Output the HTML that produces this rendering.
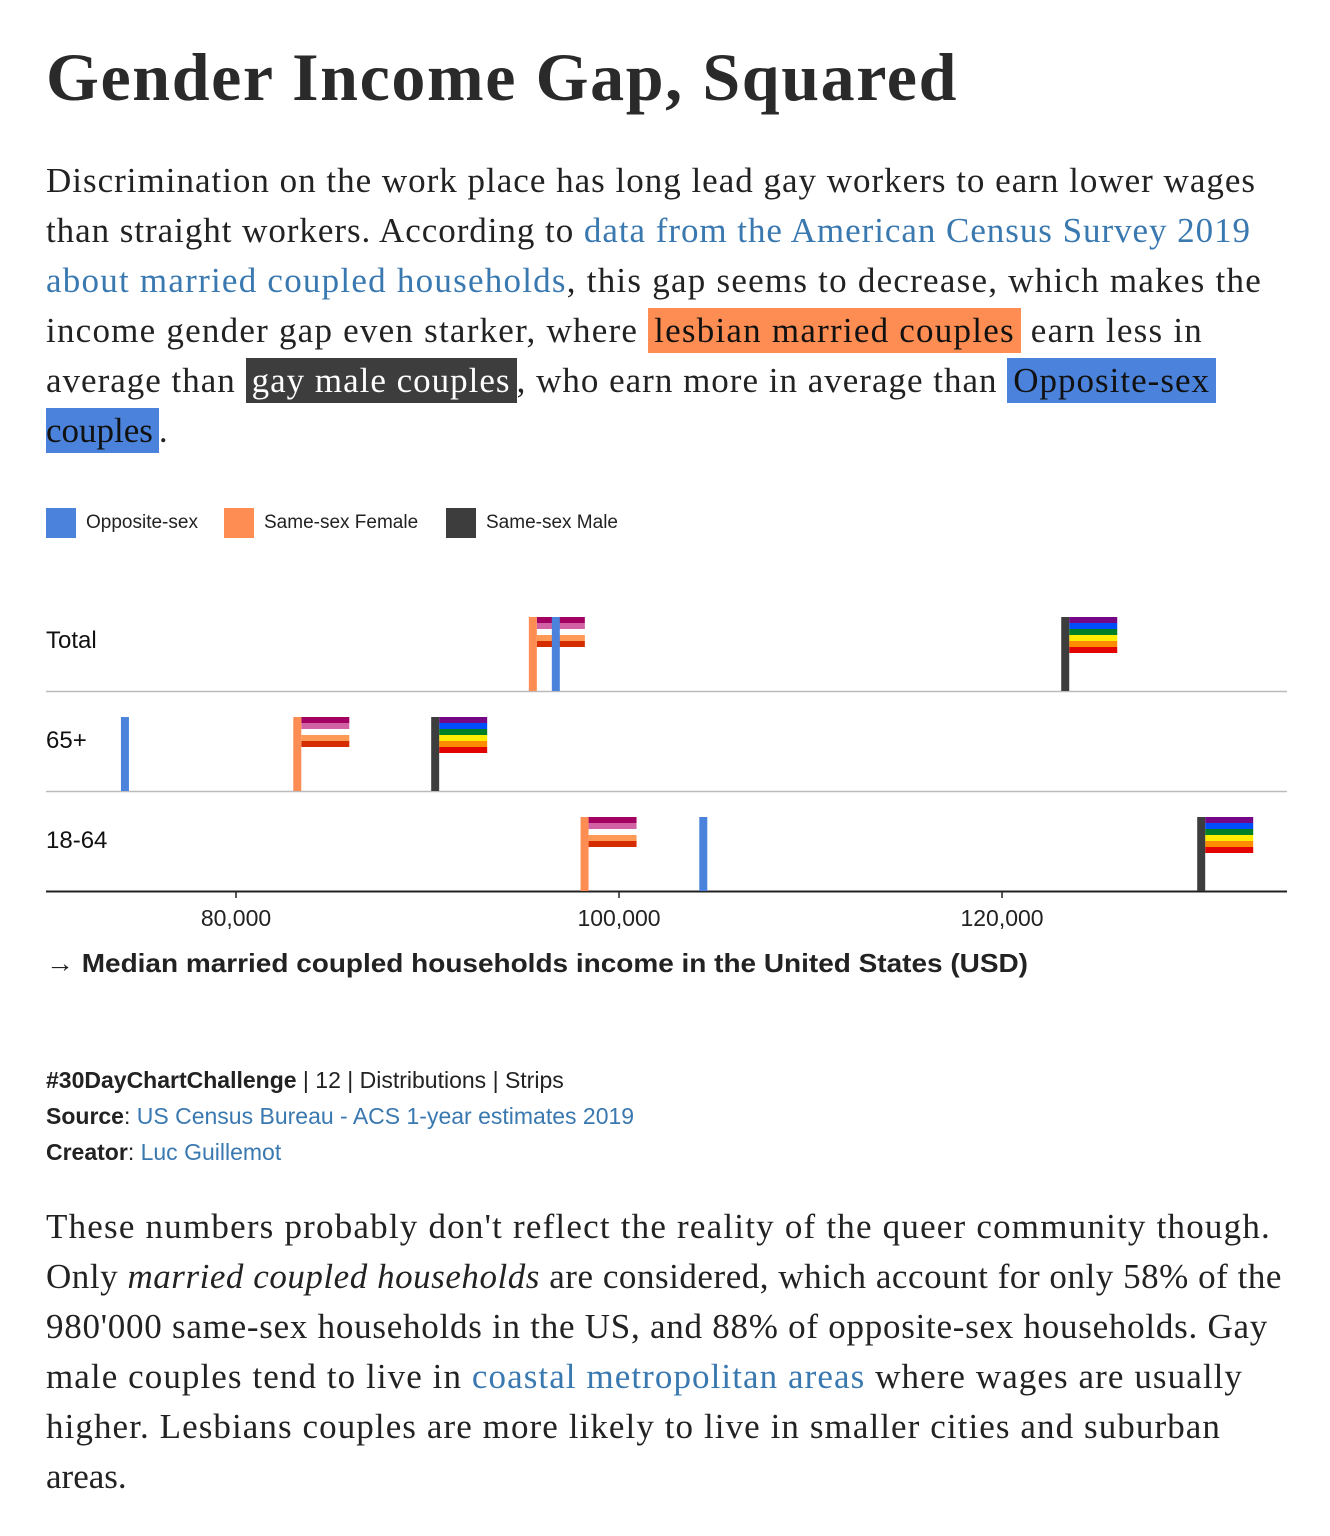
<!DOCTYPE html>
<html><head><meta charset="utf-8">
<style>
body{margin:0;width:1330px;height:1536px;background:#fff;color:#222;overflow:hidden}
.serif{font-family:"Liberation Serif",serif}
h1{position:absolute;left:46px;top:38px;margin:0;font:bold 68px "Liberation Serif",serif;color:#2a2a2a;white-space:nowrap}
.para{position:absolute;left:46px;font-size:35px;line-height:50px;color:#222}
.ln{white-space:nowrap;height:50px}
a{color:#3a78b0;text-decoration:none}
.hl{padding:3px 6px;}
.f{background:#fd8d52;color:#111}
.m{background:#3d3d3d;color:#fff}
.o{background:#4b83dc;color:#111}
.legend{position:absolute;left:0;top:508px;width:1330px;height:32px;font:19px "Liberation Sans",sans-serif;color:#222}
.sw{position:absolute;top:0;width:30px;height:30px}
.lt{position:absolute;top:4px;white-space:nowrap}
.foot{position:absolute;left:46px;top:1062px;font:23px/36px "Liberation Sans",sans-serif;color:#222}
</style></head><body>
<h1 data-w="912">Gender Income Gap, Squared</h1>
<div class="para serif" style="top:156px">
<div class="ln" data-w="1210">Discrimination on the work place has long lead gay workers to earn lower wages</div>
<div class="ln" data-w="1205">than straight workers. According to <a>data from the American Census Survey 2019</a></div>
<div class="ln" data-w="1216"><a>about married coupled households</a>, this gap seems to decrease, which makes the</div>
<div class="ln" data-w="1157">income gender gap even starker, where <span class="hl f">lesbian married couples</span> earn less in</div>
<div class="ln" data-w="1170">average than <span class="hl m">gay male couples</span>, who earn more in average than <span class="hl o">Opposite-sex</span></div>
<div class="ln"><span class="hl o" style="padding-left:0">couples</span>.</div>
</div>
<div class="legend">
<span class="sw" style="left:46px;background:#4b83dc"></span><span class="lt" style="left:86px">Opposite-sex</span>
<span class="sw" style="left:224px;background:#fd8d52"></span><span class="lt" style="left:264px">Same-sex Female</span>
<span class="sw" style="left:446px;background:#3d3d3d"></span><span class="lt" style="left:486px">Same-sex Male</span>
</div>
<svg id="chart" width="1330" height="1000" style="position:absolute;left:0;top:0"></svg>
<div class="foot">
<div><b>#30DayChartChallenge</b> | 12 | Distributions | Strips</div>
<div><b>Source</b>: <a>US Census Bureau - ACS 1-year estimates 2019</a></div>
<div><b>Creator</b>: <a>Luc Guillemot</a></div>
</div>
<div class="para serif" style="top:1202px">
<div class="ln" data-w="1225">These numbers probably don't reflect the reality of the queer community though.</div>
<div class="ln" data-w="1236">Only <i>married coupled households</i> are considered, which account for only 58% of the</div>
<div class="ln" data-w="1222">980'000 same-sex households in the US, and 88% of opposite-sex households. Gay</div>
<div class="ln" data-w="1197">male couples tend to live in <a>coastal metropolitan areas</a> where wages are usually</div>
<div class="ln" data-w="1175">higher. Lesbians couples are more likely to live in smaller cities and suburban</div>
<div class="ln">areas.</div>
</div>
<script>
const categories=["Total","65+","18-64"];
const oppositeVals=[96700,74200,104400];
const femaleVals=[95500,83200,98200];
const maleVals=[123300,90400,130400];
const tickVals=[80000,100000,120000];
const tickLabels=["80,000","100,000","120,000"];
const NS="http://www.w3.org/2000/svg";
const svg=document.getElementById('chart');
const X0=46,X1=1287,D0=70078,D1=134880;
const x=v=>X0+(v-D0)/(D1-D0)*(X1-X0);
const rowTop=i=>592+i*100;
function mk(t,a){const e=document.createElementNS(NS,t);for(const k in a)e.setAttribute(k,a[k]);svg.appendChild(e);return e;}
const lesb=["#a30262","#d162a4","#ffffff","#ff9a56","#d52d00"];
const pride=["#750787","#004dff","#008026","#ffed00","#ff8c00","#e40303"];
categories.forEach((c,i)=>{
  const t=rowTop(i);
  const lab=mk('text',{x:46,y:t+56,'font-family':'Liberation Sans,sans-serif','font-size':24,fill:'#111'});
  lab.textContent=c;
  
  
  const ln=mk('line',{x1:46,x2:1287,y1:t+99.5,y2:t+99.5,stroke:i==2?'#222':'#bbb','stroke-width':i==2?2:1.5});
  
  
  let xf=x(femaleVals[i]);
  lesb.forEach((col,k)=>{const r=mk('rect',{x:xf+4,y:t+25+k*6,width:48,height:6,fill:col});
    
    });
  const pf=mk('rect',{x:xf-4,y:t+25,width:8,height:74,fill:'#fd8d52'});
  
  
  let xm=x(maleVals[i]);
  pride.forEach((col,k)=>{const r=mk('rect',{x:xm+4,y:t+25+k*6,width:48,height:6,fill:col});
    
    });
  const pm=mk('rect',{x:xm-4,y:t+25,width:8,height:74,fill:'#3d3d3d'});
  
  
  const po=mk('rect',{x:x(oppositeVals[i])-4,y:t+25,width:8,height:74,fill:'#4b83dc'});
  
  
});
tickVals.forEach((v,k)=>{
  const tk=mk('line',{x1:x(v),x2:x(v),y1:892,y2:898,stroke:'#222','stroke-width':1.5});
  
  
  const tl=mk('text',{x:x(v),y:926,'text-anchor':'middle','font-family':'Liberation Sans,sans-serif','font-size':23,fill:'#222'});
  tl.textContent=tickLabels[k];
  
  
});
const at=mk('text',{x:46,y:972,'font-family':'Liberation Sans,sans-serif','font-size':26,'font-weight':'bold',fill:'#222',textLength:982,lengthAdjust:'spacingAndGlyphs'});
at.textContent="→ Median married coupled households income in the United States (USD)";


document.querySelectorAll('[data-w]').forEach(el=>{
  const target=+el.getAttribute('data-w');
  el.style.display='inline-block';el.style.whiteSpace='nowrap';
  const w=el.getBoundingClientRect().width;
  const n=el.textContent.length;
  el.style.letterSpacing=((target-w)/n)+'px';
  if(el.classList.contains('ln')) el.style.display='block';
});
</script>
</body></html>
